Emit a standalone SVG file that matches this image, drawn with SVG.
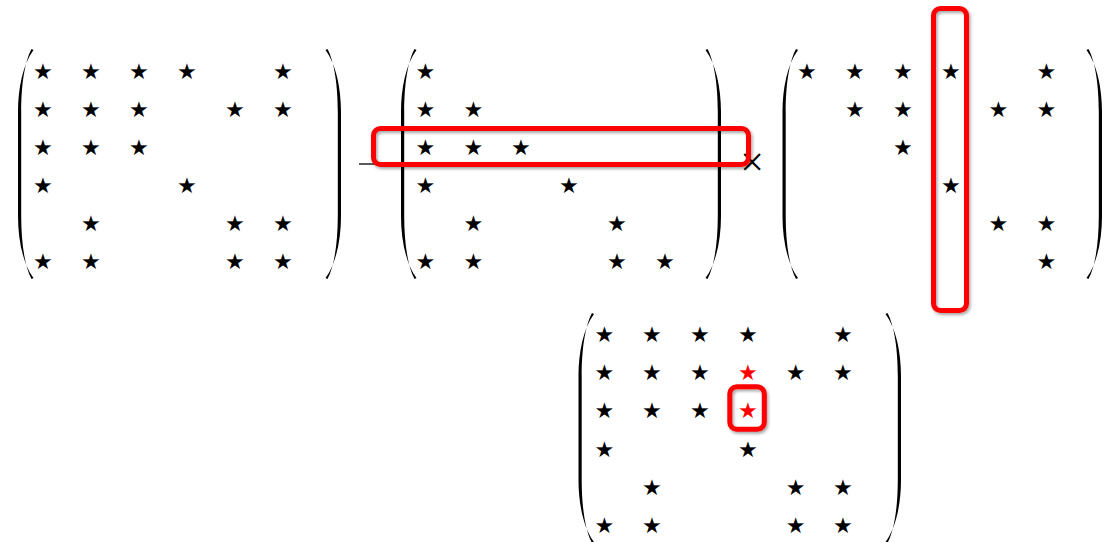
<svg xmlns="http://www.w3.org/2000/svg" width="1104" height="542" viewBox="0 0 1104 542">
<defs>
<filter id="sh" x="-20%" y="-20%" width="140%" height="140%"><feDropShadow dx="1.5" dy="2" stdDeviation="1.5" flood-color="#000" flood-opacity="0.35"/></filter>
<path id="lp" d="M16.5,0 C6,14 1,38 1,62 L1,166 C1,190 6,214 16.5,228 L14.5,229 C7.5,216 4.2,192 4.2,166 L4.2,62 C4.2,36 7.5,12 14.5,-1 Z"/>
<path id="rp" d="M-0.5,0 C10,14 15,38 15,62 L15,166 C15,190 10,214 -0.5,228 L1.5,229 C8.5,216 11.8,192 11.8,166 L11.8,62 C11.8,36 8.5,12 1.5,-1 Z"/>
</defs>
<style>
.s{font-family:"DejaVu Sans",sans-serif;font-size:31px;text-anchor:middle;dominant-baseline:central;fill:#000;stroke:#fff;stroke-width:2.1px}
.r{fill:#FF0000}
.box{fill:none;stroke:#FF0000;stroke-width:5}
.op{font-family:"Liberation Serif",serif;fill:#000}
</style>
<rect width="1104" height="542" fill="#fff"/>
<g id="matrix1">
<use href="#lp" x="17" y="50"/>
<use href="#rp" x="326" y="50"/>
<text class="s" x="43" y="70.5">★</text><text class="s" x="91" y="70.5">★</text><text class="s" x="139" y="70.5">★</text><text class="s" x="187" y="70.5">★</text><text class="s" x="283" y="70.5">★</text>
<text class="s" x="43" y="108.5">★</text><text class="s" x="91" y="108.5">★</text><text class="s" x="139" y="108.5">★</text><text class="s" x="235" y="108.5">★</text><text class="s" x="283" y="108.5">★</text>
<text class="s" x="43" y="146.5">★</text><text class="s" x="91" y="146.5">★</text><text class="s" x="139" y="146.5">★</text>
<text class="s" x="43" y="184.5">★</text><text class="s" x="187" y="184.5">★</text>
<text class="s" x="91" y="222.5">★</text><text class="s" x="235" y="222.5">★</text><text class="s" x="283" y="222.5">★</text>
<text class="s" x="43" y="260.5">★</text><text class="s" x="91" y="260.5">★</text><text class="s" x="235" y="260.5">★</text><text class="s" x="283" y="260.5">★</text>
</g>
<g id="minus">
<line x1="359" y1="164" x2="378" y2="164" stroke="#000" stroke-width="1.3"/>
</g>
<g id="matrix2">
<use href="#lp" x="400" y="50"/>
<use href="#rp" x="706" y="50"/>
<text class="s" x="425.5" y="70.5">★</text>
<text class="s" x="425.5" y="108.5">★</text><text class="s" x="473.3" y="108.5">★</text>
<text class="s" x="425.5" y="146.5">★</text><text class="s" x="473.3" y="146.5">★</text><text class="s" x="521" y="146.5">★</text>
<text class="s" x="425.5" y="184.5">★</text><text class="s" x="569" y="184.5">★</text>
<text class="s" x="473.3" y="222.5">★</text><text class="s" x="617" y="222.5">★</text>
<text class="s" x="425.5" y="260.5">★</text><text class="s" x="473.3" y="260.5">★</text><text class="s" x="617" y="260.5">★</text><text class="s" x="665" y="260.5">★</text>
</g>
<g id="times">
<text class="op" x="752" y="176" font-size="42" text-anchor="middle">×</text>
</g>
<g id="matrix3">
<use href="#lp" x="781.5" y="50"/>
<use href="#rp" x="1087" y="50"/>
<text class="s" x="807" y="70.5">★</text><text class="s" x="855" y="70.5">★</text><text class="s" x="903" y="70.5">★</text><text class="s" x="951" y="70.5">★</text><text class="s" x="1046.5" y="70.5">★</text>
<text class="s" x="855" y="108.5">★</text><text class="s" x="903" y="108.5">★</text><text class="s" x="998.5" y="108.5">★</text><text class="s" x="1046.5" y="108.5">★</text>
<text class="s" x="903" y="146.5">★</text>
<text class="s" x="951" y="184.5">★</text>
<text class="s" x="998.5" y="222.5">★</text><text class="s" x="1046.5" y="222.5">★</text>
<text class="s" x="1046.5" y="260.5">★</text>
</g>
<g id="matrix4">
<use href="#lp" x="577.5" y="314"/>
<use href="#rp" x="886" y="314"/>
<text class="s" x="604.3" y="334">★</text><text class="s" x="652" y="334">★</text><text class="s" x="700" y="334">★</text><text class="s" x="747.8" y="334">★</text><text class="s" x="843" y="334">★</text>
<text class="s" x="604.3" y="372">★</text><text class="s" x="652" y="372">★</text><text class="s" x="700" y="372">★</text><text class="s r" x="747.8" y="372">★</text><text class="s" x="795.7" y="372">★</text><text class="s" x="843" y="372">★</text>
<text class="s" x="604.3" y="410">★</text><text class="s" x="652" y="410">★</text><text class="s" x="700" y="410">★</text><text class="s r" x="747.8" y="410">★</text>
<text class="s" x="604.3" y="448.5">★</text><text class="s" x="747.8" y="448.5">★</text>
<text class="s" x="652" y="487">★</text><text class="s" x="795.7" y="487">★</text><text class="s" x="843" y="487">★</text>
<text class="s" x="604.3" y="525">★</text><text class="s" x="652" y="525">★</text><text class="s" x="795.7" y="525">★</text><text class="s" x="843" y="525">★</text>
</g>
<g id="highlights" filter="url(#sh)">
<rect id="rowbox" class="box" x="373.5" y="128.5" width="375" height="36" rx="7"/>
<rect id="colbox" class="box" x="933.5" y="8.5" width="33" height="302" rx="7"/>
<rect id="cellbox" class="box" x="729.8" y="386.8" width="34.5" height="42.5" rx="7"/>
</g>
</svg>
